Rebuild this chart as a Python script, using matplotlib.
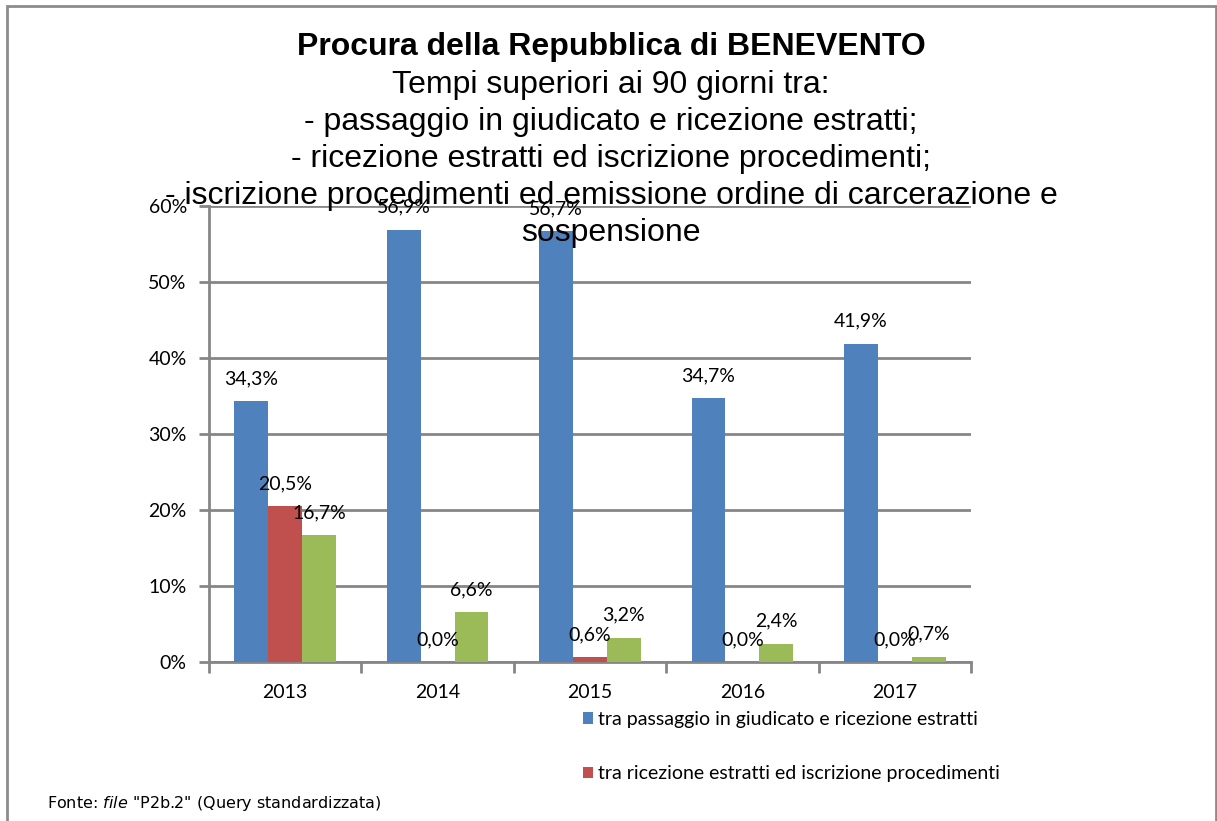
import matplotlib
matplotlib.use("Agg")
import matplotlib.pyplot as plt
from matplotlib.patches import Rectangle
import numpy as np

years = ["2013", "2014", "2015", "2016", "2017"]
series_names = [
    "tra passaggio in giudicato e ricezione estratti",
    "tra ricezione estratti ed iscrizione procedimenti",
    "tra iscrizione procedimenti ed emissione ordine di carcerazione e sospensione",
]
passaggio = [34.3, 56.9, 56.7, 34.7, 41.9]
ricezione = [20.5, 0.0, 0.6, 0.0, 0.0]
iscrizione = [16.7, 6.6, 3.2, 2.4, 0.7]
colors = ["#4F81BD", "#C0504D", "#9BBB59"]
yticks = [0, 10, 20, 30, 40, 50, 60]

title_bold = "Procura della Repubblica di BENEVENTO"
title_lines = [
    "Tempi superiori ai 90 giorni tra:",
    "- passaggio in giudicato e ricezione estratti;",
    "- ricezione estratti ed iscrizione procedimenti;",
    "- iscrizione procedimenti ed emissione ordine di carcerazione e",
    "sospensione",
]

plt.rcParams["mathtext.fontset"] = "dejavusans"

W, H = 1217, 821
fig = plt.figure(figsize=(W / 100, H / 100), dpi=100)
fig.patch.set_facecolor("white")

ax = fig.add_axes([209 / W, 1 - 662 / H, (971 - 209) / W, (662 - 206) / H])
ax.set_facecolor("white")

lab_font = "Lato"
grid_c = "#868686"
x = np.arange(len(years))
bw = 0.2225
all_series = [passaggio, ricezione, iscrizione]
bars = []
for i, (vals, c) in enumerate(zip(all_series, colors)):
    b = ax.bar(x + (i - 1) * bw, vals, width=bw, color=c, zorder=3, label=series_names[i])
    bars.append(b)
    for xi, v in zip(x + (i - 1) * bw, vals):
        ax.annotate(f"{v:.1f}%".replace(".", ","), (xi, v), xytext=(0, 12.2),
                    textcoords="offset points", ha="center", va="baseline",
                    fontsize=14, family=lab_font, color="black", zorder=5)

ax.set_xlim(-0.5, len(years) - 0.5)
ax.set_ylim(0, 60)
ax.set_yticks(yticks)
ax.set_yticklabels([f"{t}%" for t in yticks], fontsize=14, family=lab_font)
ax.set_xticks(x)
ax.set_xticklabels(years, fontsize=14, family=lab_font)
ax.set_xticks(np.arange(-0.5, len(years)), minor=True)
ax.tick_params(axis="x", which="major", length=0, pad=16)
ax.tick_params(axis="x", which="minor", length=8, width=2, color=grid_c)
ax.tick_params(axis="y", length=7, width=2, color=grid_c, pad=9)
for s in ["top", "right"]:
    ax.spines[s].set_visible(False)
for s in ["left", "bottom"]:
    ax.spines[s].set_color(grid_c)
    ax.spines[s].set_linewidth(2)
ax.grid(axis="y", color=grid_c, linewidth=2, zorder=0)
ax.set_axisbelow(True)

# Title
fig.text(611 / W, 1 - 55 / H, title_bold, ha="center", va="baseline",
         fontsize=23, fontweight="bold", family="Liberation Sans")
for k, line in enumerate(title_lines):
    fig.text(611 / W, 1 - (93 + 37 * k) / H, line, ha="center", va="baseline",
             fontsize=23, family="Liberation Sans")

# Legend (only the two entries visible inside the chart area)
leg = fig.legend(handles=bars[:2], labels=series_names[:2], loc="upper left",
                 bbox_to_anchor=(583 / W, 1 - 711 / H), frameon=False,
                 prop={"family": lab_font, "size": 14},
                 handlelength=0.52, handleheight=0.52, handletextpad=0.26,
                 labelspacing=1.91, borderaxespad=0, borderpad=0)

# Source note
fig.text(47 / W, 1 - 808 / H, r'Fonte: $\it{file}$ "P2b.2" (Query standardizzata)',
         fontsize=11.5, family="DejaVu Sans", ha="left", va="baseline")

# Outer frame
fig.add_artist(Rectangle((7 / W, -0.05), (1215.5 - 7) / W, 1.05 - 6.5 / H,
                         transform=fig.transFigure, fill=False,
                         edgecolor="#8c8c8c", linewidth=2))

fig.savefig("out.png", dpi=100)
